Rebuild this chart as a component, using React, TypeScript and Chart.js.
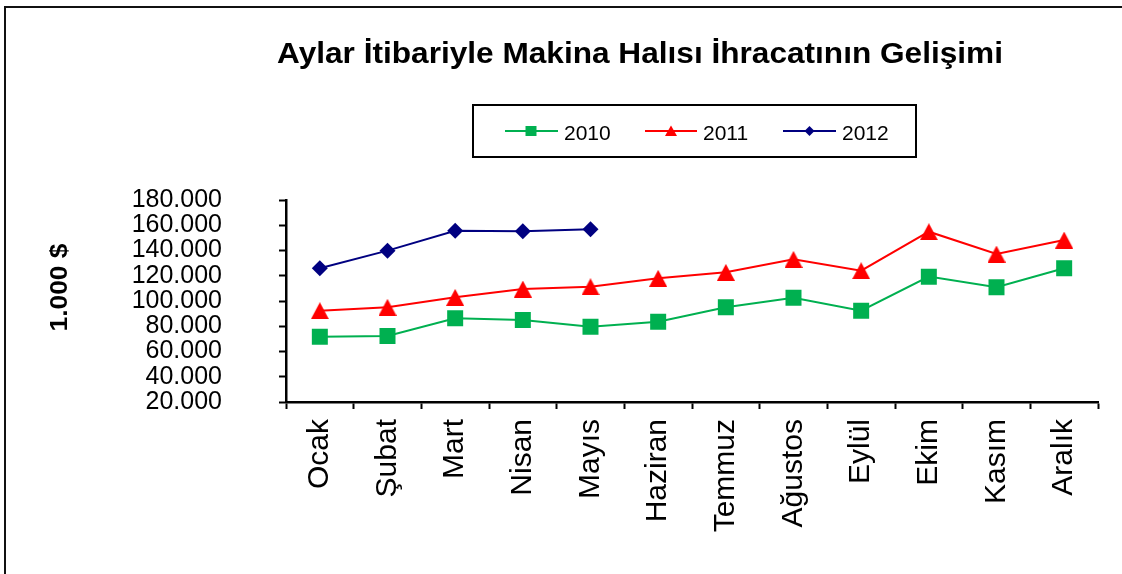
import React, { useEffect, useRef } from 'react';
import { Chart, registerables } from 'chart.js';

Chart.register(...registerables);

const TITLE = 'Aylar İtibariyle Makina Halısı İhracatının Gelişimi';
const Y_TITLE = '1.000 $';

const months = ['Ocak', 'Şubat', 'Mart', 'Nisan', 'Mayıs', 'Haziran', 'Temmuz', 'Ağustos', 'Eylül', 'Ekim', 'Kasım', 'Aralık'];
const seriesLabels = ['2010', '2011', '2012'];
const values2010 = [71700, 72300, 86300, 85000, 79700, 83600, 95000, 102600, 92300, 119300, 110900, 125900];
const values2011 = [92300, 95000, 102900, 109500, 111300, 118000, 122700, 133000, 124000, 154900, 137200, 148300];
const values2012 = [125900, 139900, 155700, 155200, 156800];

const Y_MIN = 20000;
const Y_MAX = 180000;
const Y_STEP = 20000;

const COLORS = ['#00B050', '#FF0000', '#000080'];
const FONT = "'Liberation Sans', Arial, Helvetica, sans-serif";

const fmt = (v: number) => Math.round(v).toString().replace(/\B(?=(\d{3})+(?!\d))/g, '.');

function makeTriangle(w: number, h: number, color: string) {
  const c = document.createElement('canvas');
  c.width = w;
  c.height = h;
  const g = c.getContext('2d')!;
  g.fillStyle = color;
  g.beginPath();
  g.moveTo(w / 2, 0);
  g.lineTo(w, h);
  g.lineTo(0, h);
  g.closePath();
  g.fill();
  return c;
}

const overlayPlugin = {
  id: 'overlay',
  afterDraw(chart: any) {
    const ctx: CanvasRenderingContext2D = chart.ctx;
    // Title
    ctx.save();
    ctx.fillStyle = '#000';
    ctx.font = `bold 28.8px ${FONT}`;
    ctx.textAlign = 'center';
    ctx.textBaseline = 'alphabetic';
    const tw = ctx.measureText(TITLE).width;
    ctx.translate(640, 63);
    ctx.scale(726 / tw, 1);
    ctx.fillText(TITLE, 0, 0);
    ctx.restore();

    // Y axis title
    ctx.save();
    ctx.fillStyle = '#000';
    ctx.font = `bold 23px ${FONT}`;
    ctx.textAlign = 'center';
    ctx.textBaseline = 'alphabetic';
    const yw = ctx.measureText(Y_TITLE).width;
    ctx.translate(66.5, 287.5);
    ctx.rotate(-Math.PI / 2);
    ctx.scale(88 / yw, 1);
    ctx.fillText(Y_TITLE, 0, 0);
    ctx.restore();

    // Legend box
    ctx.save();
    ctx.strokeStyle = '#000';
    ctx.lineWidth = 2;
    ctx.strokeRect(473, 105, 443, 52);
    const ly = 131;
    const items = [
      { x0: 505, x1: 558, mx: 531, tx: 564 },
      { x0: 645, x1: 697, mx: 671, tx: 703 },
      { x0: 783, x1: 836, mx: 809.5, tx: 842 },
    ];
    chart.data.datasets.forEach((ds: any, i: number) => {
      const it = items[i];
      const col = ds.borderColor;
      ctx.strokeStyle = col;
      ctx.fillStyle = col;
      ctx.lineWidth = 2;
      ctx.beginPath();
      ctx.moveTo(it.x0, ly);
      ctx.lineTo(it.x1, ly);
      ctx.stroke();
      ctx.beginPath();
      if (i === 0) {
        ctx.rect(it.mx - 5.5, ly - 5, 11, 10);
      } else if (i === 1) {
        ctx.moveTo(it.mx, ly - 5.5);
        ctx.lineTo(it.mx + 6, ly + 5);
        ctx.lineTo(it.mx - 6, ly + 5);
        ctx.closePath();
      } else {
        ctx.moveTo(it.mx, ly - 5);
        ctx.lineTo(it.mx + 5, ly);
        ctx.lineTo(it.mx, ly + 5);
        ctx.lineTo(it.mx - 5, ly);
        ctx.closePath();
      }
      ctx.fill();
      ctx.fillStyle = '#000';
      ctx.font = `21px ${FONT}`;
      ctx.textAlign = 'left';
      ctx.textBaseline = 'alphabetic';
      ctx.fillText(ds.label, it.tx, 140);
    });
    ctx.restore();
  },
};

export default function App() {
  const ref = useRef<HTMLCanvasElement | null>(null);

  useEffect(() => {
    if (!ref.current) return;
    const tri = makeTriangle(18, 17, COLORS[1]);
    const chart = new Chart(ref.current, {
      type: 'line',
      data: {
        labels: months,
        datasets: [
          {
            label: seriesLabels[0],
            data: values2010,
            borderColor: COLORS[0],
            backgroundColor: COLORS[0],
            pointBackgroundColor: COLORS[0],
            borderWidth: 2,
            pointStyle: 'rect',
            pointRadius: 11.31,
            pointBorderWidth: 0,
            tension: 0,
          },
          {
            label: seriesLabels[1],
            data: values2011,
            borderColor: COLORS[1],
            backgroundColor: COLORS[1],
            pointBackgroundColor: COLORS[1],
            borderWidth: 2,
            pointStyle: tri as any,
            pointRadius: 9,
            pointBorderWidth: 0,
            tension: 0,
          },
          {
            label: seriesLabels[2],
            data: values2012,
            borderColor: COLORS[2],
            backgroundColor: COLORS[2],
            pointBackgroundColor: COLORS[2],
            borderWidth: 2,
            pointStyle: 'rectRot',
            pointRadius: 8,
            pointBorderWidth: 0,
            tension: 0,
          },
        ],
      },
      options: {
        responsive: false,
        animation: false,
        events: [],
        layout: { padding: { top: 200, right: 24, bottom: 0, left: 0 } },
        plugins: {
          legend: { display: false },
          title: { display: false },
          tooltip: { enabled: false },
        },
        scales: {
          x: {
            type: 'category',
            offset: true,
            afterFit: (scale: any) => {
              scale.height = 172;
            },
            border: { display: true, color: '#000', width: 2.5 },
            grid: {
              display: true,
              drawOnChartArea: false,
              drawTicks: true,
              tickLength: 7,
              tickWidth: 2,
              tickColor: '#000',
              offset: true,
            },
            ticks: {
              autoSkip: false,
              minRotation: 90,
              maxRotation: 90,
              padding: 10,
              color: '#000',
              font: { family: FONT, size: 30 },
            },
          },
          y: {
            min: Y_MIN,
            max: Y_MAX,
            afterFit: (scale: any) => {
              scale.width = 286;
            },
            border: { display: true, color: '#000', width: 2.5 },
            grid: {
              display: true,
              drawOnChartArea: false,
              drawTicks: true,
              tickLength: 7,
              tickWidth: 2,
              tickColor: '#000',
            },
            ticks: {
              stepSize: Y_STEP,
              autoSkip: false,
              padding: 57,
              color: '#000',
              font: { family: FONT, size: 25, lineHeight: 1 },
              callback: (v: any) => fmt(Number(v)),
            },
          },
        },
      },
      plugins: [overlayPlugin],
    });
    return () => chart.destroy();
  }, []);

  return (
    <div
      style={{
        position: 'fixed',
        left: 0,
        top: 0,
        width: 1122,
        height: 574,
        overflow: 'hidden',
        background: '#fff',
      }}
    >
      <div
        style={{
          position: 'absolute',
          left: 4,
          top: 6,
          width: 1300,
          height: 800,
          border: '2px solid #111',
        }}
      />
      <canvas
        ref={ref}
        width={1122}
        height={574}
        style={{ position: 'absolute', left: 0, top: 0, width: 1122, height: 574 }}
      />
    </div>
  );
}
